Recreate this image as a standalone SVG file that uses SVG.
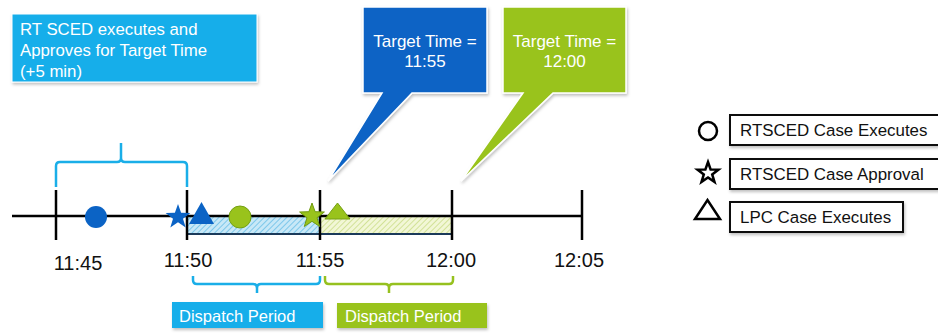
<svg xmlns="http://www.w3.org/2000/svg" width="938" height="333" viewBox="0 0 938 333">
<style>
text{font-family:"Liberation Sans",Arial,sans-serif;}
.wt{fill:#ffffff;font-size:16.8px;}
.dp{fill:#ffffff;font-size:16.5px;}
.ct{fill:#ffffff;font-size:17px;text-anchor:middle;}
.tl{fill:#111111;font-size:20px;text-anchor:middle;}
.lg{fill:#111111;font-size:16.9px;}
.tick{stroke:#000;stroke-width:2.5;fill:none;}
.lbrace{stroke:#1aaee8;stroke-width:2.5;fill:none;}
.gbrace{stroke:#96c11f;stroke-width:2.5;fill:none;}
.lbox{fill:#fff;stroke:#111;stroke-width:2;}
.sym{fill:none;stroke:#000;stroke-width:2.5;}
</style>
<defs>
<filter id="sh" x="-10%" y="-10%" width="130%" height="130%">
<feDropShadow dx="1" dy="2" stdDeviation="1.5" flood-color="#000" flood-opacity="0.25"/>
</filter>
<pattern id="hb" width="4" height="4" patternUnits="userSpaceOnUse" patternTransform="rotate(45)">
<rect width="4" height="4" fill="#c8e8f7"/>
<line x1="0" y1="0" x2="0" y2="4" stroke="#5cb9e5" stroke-width="1.4"/>
</pattern>
<pattern id="hg" width="4" height="4" patternUnits="userSpaceOnUse" patternTransform="rotate(45)">
<rect width="4" height="4" fill="#f2f7d6"/>
<line x1="0" y1="0" x2="0" y2="4" stroke="#c4da7e" stroke-width="1.4"/>
</pattern>
<path id="star" d="M0,-13 L3.1,-4.3 L12.4,-4 L5,1.7 L7.7,10.5 L0,5.3 L-7.7,10.5 L-5,1.7 L-12.4,-4 L-3.1,-4.3 Z"/>
<path id="lstar" d="M0,-11 L2.6,-3.6 L10.5,-3.4 L4.2,1.4 L6.5,8.9 L0,4.5 L-6.5,8.9 L-4.2,1.4 L-10.5,-3.4 L-2.6,-3.6 Z"/>
</defs>

<g id="sced-box">
<rect x="12" y="14" width="245" height="68" fill="#19aeea" stroke="#fff" stroke-width="1" filter="url(#sh)"/>
<text class="wt" x="20" y="35">RT SCED executes and</text>
<text class="wt" x="20" y="56">Approves for Target Time</text>
<text class="wt" x="20" y="77">(+5 min)</text>
</g>

<g id="callout-1155">
<path d="M363,7 H487 V93 H412 L328,181 L382,93 H363 Z" fill="#0b63c5" stroke="#fff" stroke-width="1.5" filter="url(#sh)"/>
<text class="ct" x="425" y="47">Target Time =</text>
<text class="ct" x="425" y="67">11:55</text>
</g>

<g id="callout-1200">
<path d="M503,7 H626 V93 H553 L461,181 L523,93 H503 Z" fill="#99c31c" stroke="#fff" stroke-width="1.5" filter="url(#sh)"/>
<text class="ct" x="564.5" y="47">Target Time =</text>
<text class="ct" x="564.5" y="67">12:00</text>
</g>

<g id="periods">
<rect x="187" y="216" width="133" height="18" fill="url(#hb)" stroke="#1b3a5a" stroke-width="2"/>
<rect x="320" y="216" width="132" height="18" fill="url(#hg)" stroke="#1b3a5a" stroke-width="2"/>
</g>

<g id="connectors">
<line class="tick" x1="12" y1="216" x2="582" y2="216"/>
<line class="tick" x1="56" y1="190" x2="56" y2="240"/>
<line class="tick" x1="187" y1="190" x2="187" y2="240"/>
<line class="tick" x1="320" y1="190" x2="320" y2="240"/>
<line class="tick" x1="452" y1="190" x2="452" y2="240"/>
<line class="tick" x1="582" y1="190" x2="582" y2="240"/>
<path class="lbrace" d="M56,187 V166 Q56,162 60,162 H117 Q121,162 121,158 V143 M121,158 Q121,162 125,162 H183 Q187,162 187,166 V187"/>
<path class="lbrace" d="M193,276 V280 Q193,284 197,284 H253 Q257,284 257,288 V293 M257,288 Q257,284 261,284 H316 Q320,284 320,280 V276"/>
<path class="gbrace" d="M325,276 V280 Q325,284 329,284 H385 Q389,284 389,288 V293 M389,288 Q389,284 393,284 H449 Q453,284 453,280 V276"/>
</g>

<g id="labels">
<text class="tl" x="78" y="270">11:45</text>
<text class="tl" x="188" y="267">11:50</text>
<text class="tl" x="320" y="267">11:55</text>
<text class="tl" x="451" y="267">12:00</text>
<text class="tl" x="579" y="267">12:05</text>
</g>

<g id="events">
<circle cx="96" cy="217" r="11" fill="#0b63c5"/>
<use href="#star" x="178" y="217" fill="#0b63c5"/>
<polygon points="189,224 214,224 201.5,202" fill="#0b63c5"/>
<circle cx="240" cy="217" r="11" fill="#99c31c" stroke="#74a012" stroke-width="1"/>
<use href="#star" x="312" y="216" fill="#99c31c" stroke="#6f9a10" stroke-width="1"/>
<polygon points="325,219 350,219 337.5,203" fill="#99c31c" stroke="#74a012" stroke-width="1"/>
</g>

<g id="dispatch-blue">
<rect x="172" y="302" width="151" height="26" fill="#19aeea" filter="url(#sh)"/>
<text class="dp" x="179" y="322">Dispatch Period</text>
</g>
<g id="dispatch-green">
<rect x="337" y="303" width="150" height="25" fill="#99c31c" filter="url(#sh)"/>
<text class="dp" x="345" y="322">Dispatch Period</text>
</g>

<g id="legend-circle">
<circle class="sym" cx="708" cy="131" r="9"/>
<rect class="lbox" x="730" y="115" width="215" height="30" filter="url(#sh)"/>
<text class="lg" x="740" y="136">RTSCED Case Executes</text>
</g>
<g id="legend-star">
<use href="#lstar" x="708" y="173" class="sym" stroke-width="2.2"/>
<rect class="lbox" x="730" y="159" width="215" height="30" filter="url(#sh)"/>
<text class="lg" x="740" y="180">RTSCED Case Approval</text>
</g>
<g id="legend-triangle">
<polygon class="sym" points="695,219 720,219 707.5,200"/>
<rect class="lbox" x="730" y="202" width="173" height="30" filter="url(#sh)"/>
<text class="lg" x="740" y="223">LPC Case Executes</text>
</g>
</svg>
